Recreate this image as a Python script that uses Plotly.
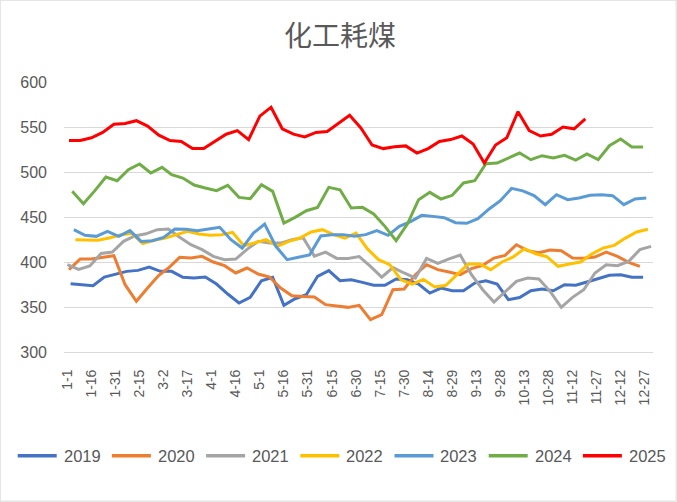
import datetime as dt
import plotly.graph_objects as go

# ---- data (weekly readings, mapped onto a common calendar) ----
years = ["2019", "2020", "2021", "2022", "2023", "2024", "2025"]
start_dates = ["2019-01-03", "2020-01-02", "2021-01-01", "2022-01-06",
               "2023-01-05", "2024-01-04", "2025-01-02"]
colors = ["#4472C4", "#ED7D31", "#A5A5A5", "#FFC000", "#5B9BD5", "#70AD47", "#FF0000"]

v2019 = [375.9, 374.8, 373.7, 383.3, 386.6, 389.6, 390.7, 394.4, 389.6, 389.6,
         383, 382.2, 383.3, 375.5, 364.4, 354.4, 360.7, 379.2, 383, 351.8,
         359.2, 363.7, 384.1, 390.4, 379.2, 380.3, 377.4, 374.1, 374.1, 381.1,
         380.3, 375.5, 365.5, 371.1, 368.1, 368.1, 376.6, 379.2, 375.5, 358.1,
         360.5, 368.1, 370, 368.1, 374.8, 374.1, 377.8, 381.1, 385.2, 385.9,
         383, 383]
v2020 = [391.5, 403.3, 403.3, 405.2, 407, 374.8, 356.3, 371.1, 385.2, 393.3,
         405.2, 404.4, 406.3, 400, 395.9, 387.8, 393.3, 386.6, 383.3, 371.1,
         362.5, 361.8, 361.1, 352.6, 350.7, 349.6, 351.8, 335.9, 341.5, 369.2,
         370, 385.9, 397, 391.5, 388.9, 385.9, 392.6, 396.3, 404.4, 407.4,
         419.2, 412.6, 410.4, 413.3, 412.6, 404.4, 404.1, 405.5, 411.1, 406.3,
         399.6, 395.2]
v2021 = [397, 391.8, 395.5, 409.5, 411, 423, 429, 431.3, 435.9, 436.6,
         427.5, 419.2, 413.7, 406.3, 402.6, 403.3, 414, 423, 421.1, 421,
         424.8, 427, 406.5, 411, 404, 404, 406, 395.2, 383.2, 393.8,
         387.8, 382.2, 404, 398.5, 403.5, 407.7, 385.9, 369.2, 355.5, 367.4,
         378.5, 382.2, 381.1, 367.4, 349.6, 360.7, 369.2, 387.8, 397, 395.9,
         400.7, 413.7, 417.4]
v2022 = [424.8, 424.1, 424.1, 426.6, 430, 432, 420.5, 424, 426.6, 430.4,
         434, 431.1, 429.6, 430.4, 432.9, 418, 421, 424.8, 417.4, 423,
         426.6, 433.3, 435.9, 430.4, 426.6, 432.2, 414.8, 402.6, 397, 380.3,
         375.5, 380.7, 372.2, 374.1, 385.9, 397.8, 397.8, 391.5, 400, 405.6,
         414.8, 409.2, 405.9, 395.2, 397.8, 400, 408.9, 415.5, 418.5, 426.6,
         433.3, 436.3]
v2023 = [436, 429.6, 428.5, 434, 428.5, 434.8, 422.9, 423.7, 427.4, 436.6,
         436.3, 434.8, 436.6, 438.5, 424.8, 415.5, 432.2, 442.2, 417.4, 402.6,
         405.2, 407.8, 429, 430.4, 430.4, 428.5, 430.4, 434.8, 429.6, 439.6,
         444.8, 451.8, 450.7, 449.2, 443.7, 443, 448.1, 458.9, 468.1, 481.8,
         479, 473.7, 463.7, 474.8, 469.2, 471.1, 474.1, 474.8, 473.7, 463.7,
         470, 471.1]
v2024 = [478.5, 464.8, 479, 494.4, 490.3, 502.6, 508.9, 498.9, 505.2, 497,
         493.3, 485.5, 482.2, 479.2, 485.2, 471.8, 470.3, 485.9, 478.5, 443.3,
         449.6, 457, 460.7, 482.9, 480.3, 460, 460.7, 453.3, 439.6, 423.7,
         442.2, 469.2, 477.4, 470, 474.1, 487.8, 490.3, 509.2, 510, 515.5,
         521.1, 513.7, 518.1, 515.5, 518.5, 513.3, 520, 513.7, 529.2, 536.6,
         527.8, 527.8]
v2025 = [535, 535, 538, 544, 553, 554, 557, 551, 541, 535,
         534, 526, 526, 534, 542, 546, 536, 562, 572, 548,
         542, 539, 544, 545, 554, 563, 549, 530, 526, 528,
         529, 521, 526, 534, 536, 540, 531, 510, 530, 538,
         567, 546, 540, 542, 550, 548, 559]
series = [v2019, v2020, v2021, v2022, v2023, v2024, v2025]

title_text = "化工耗煤"
y_ticks = [300, 350, 400, 450, 500, 550, 600]


def common_dates(start, n):
    d0 = dt.date.fromisoformat(start)
    out = []
    for i in range(n):
        d = d0 + dt.timedelta(days=7 * i)
        if d.month == 2 and d.day == 29:
            cd = dt.date(2001, 3, 1)
        else:
            cd = dt.date(2001, d.month, d.day)
        out.append(cd.isoformat())
    return out


fig = go.Figure()
for name, start, vals, col in zip(years, start_dates, series, colors):
    fig.add_trace(go.Scatter(
        x=common_dates(start, len(vals)), y=vals, name=name, mode="lines",
        line=dict(color=col, width=3), showlegend=False,
    ))

W, H = 677, 502
L, R, T, B = 64.3, 653.3, 82.3, 352.3
pw, ph = R - L, B - T


def px_x(p):
    return (p - L) / pw


def px_y(p):
    return (B - p) / ph


# hand-built legend (line sample + label), laid out like the original
shapes = [dict(type="rect", xref="paper", yref="paper",
               x0=px_x(0.5), x1=px_x(W - 0.5), y0=px_y(H - 0.5), y1=px_y(0.5),
               line=dict(color="#D9D9D9", width=1), layer="below")]
annotations = []
leg_y = 456
step = 94.2
for i, (name, col) in enumerate(zip(years, colors)):
    x0 = 18 + step * i
    shapes.append(dict(type="line", xref="paper", yref="paper",
                       x0=px_x(x0), x1=px_x(x0 + 39), y0=px_y(leg_y), y1=px_y(leg_y),
                       line=dict(color=col, width=3.5)))
    annotations.append(dict(text=name, xref="paper", yref="paper",
                            x=px_x(x0 + 44), y=px_y(leg_y), xanchor="left",
                            yanchor="middle", showarrow=False,
                            font=dict(size=16.5, color="#595959")))

fig.update_layout(
    width=W, height=H,
    margin=dict(l=L, r=W - R, t=T, b=H - B, pad=0),
    paper_bgcolor="white", plot_bgcolor="white",
    font=dict(family="Liberation Sans, Arial, sans-serif", color="#595959"),
    title=dict(text=title_text, x=340 / W, xanchor="center",
               y=1 - 36 / H, yanchor="middle",
               font=dict(family="Noto Sans CJK SC", size=28, color="#595959")),
    showlegend=False,
    xaxis=dict(type="date",
               range=["2000-12-29 21:00", "2002-01-01 04:30"],
               tick0="2001-01-01", dtick=15 * 86400000,
               tickformat="%-m-%-d", tickangle=-90,
               tickfont=dict(size=14, color="#595959"),
               showgrid=False, showline=True, linecolor="#D9D9D9", linewidth=1,
               ticks="", ticklabelstandoff=11, zeroline=False, fixedrange=True),
    yaxis=dict(range=[300, 600], tickvals=y_ticks,
               tickfont=dict(size=16, color="#595959"),
               showgrid=True, gridcolor="#D9D9D9", gridwidth=1,
               ticks="", ticklabelstandoff=16, zeroline=False, showline=False),
    shapes=shapes,
    annotations=annotations,
)

fig.write_html("out.html",
               config={"displayModeBar": False},
               post_script="document.body.style.margin='0';"
                           "document.body.style.overflow='hidden';")
